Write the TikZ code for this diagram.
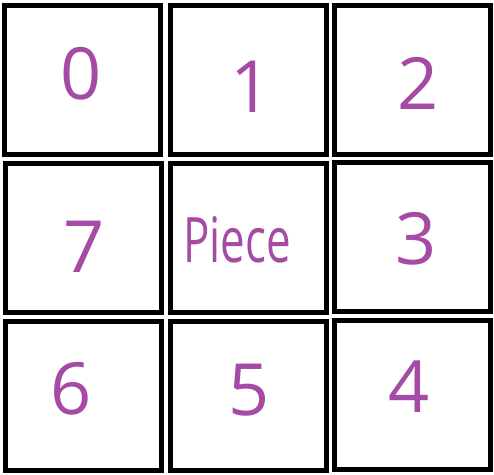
\documentclass[tikz,border=0pt]{standalone}
\usepackage{fontspec}
\setmainfont{Open Sans}
\usepackage{xcolor}
\definecolor{hand-purple}{RGB}{165,75,165}
\usepackage{tikz}

\begin{document}
\begin{tikzpicture}[x=0.75pt,y=-0.75pt,
	cell/.style={draw,line width=3.75pt,minimum width=117pt,minimum height=111.75pt,inner sep=0pt},
	digit/.style={hand-purple,inner sep=0pt,font=\fontsize{54}{54}\selectfont}]
	\useasboundingbox (0,0) rectangle (494,475);
	\foreach \n/\x/\y in {c0/82.5/80,c1/248.5/80,c2/412.5/80,c7/83.5/238,cp/248.5/238,c3/412.5/236.5,c6/83.5/396,c5/248.5/396,c4/412.5/395}
		\node[cell] (\n) at (\x,\y) {};
	\foreach \n/\x/\y/\t in {l0/81/74/0,l1/251/87/1,l2/418/83/2,l7/84/247/7,l3/416/239/3,l6/71/389/6,l5/249/390/5,l4/409/387/4}
		\node[digit] (\n) at (\x,\y) {\t};
	\node[digit,font=\fontsize{47}{47}\selectfont,xscale=.7] (lp) at (237,240) {Piece};
\end{tikzpicture}
\end{document}
